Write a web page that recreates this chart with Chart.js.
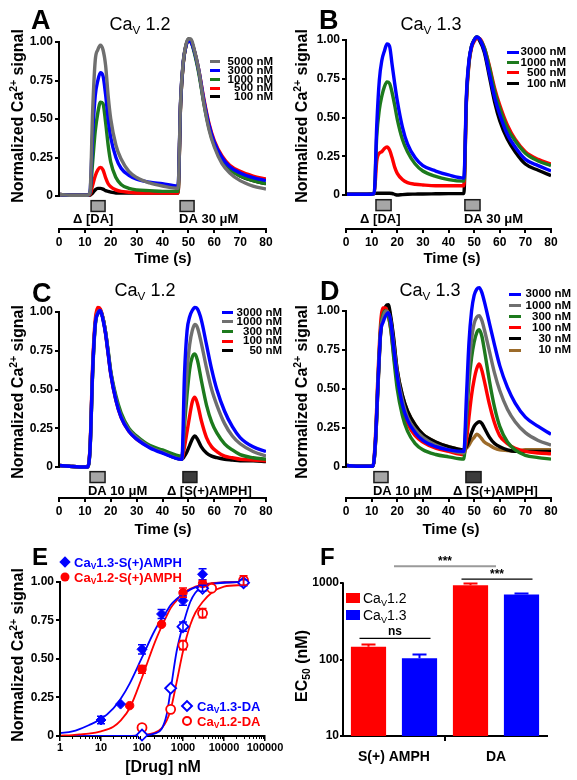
<!DOCTYPE html>
<html>
<head>
<meta charset="utf-8">
<script src="https://cdn.jsdelivr.net/npm/chart.js@4.4.0/dist/chart.umd.min.js"></script>
<style>
  body { margin: 0; background: #fff; font-family: "Liberation Sans", Arial, sans-serif; }
  #fig { position: relative; width: 577px; height: 780px; overflow: hidden; background: #fff; }
  canvas { position: absolute; }
  .lbl { position: absolute; white-space: nowrap; color: #000; line-height: 1; }
  .letter { font-weight: bold; font-size: 27px; }
  .letter.small { font-size: 24px; }
  .ttl { font-size: 18px; transform: translate(-50%, -50%); }
  .ytitle { font-weight: bold; font-size: 16px; transform: translate(-50%, -50%) rotate(-90deg); }
  .xtitle { font-weight: bold; font-size: 15px; transform: translate(-50%, -50%); }
  sub, sup { font-size: 65%; line-height: 0; }
  sub { vertical-align: -0.3em; }
  sup { vertical-align: 0.55em; }
  .leg { position: absolute; }
  .leg .row { display: flex; align-items: center; }
  .leg .sw { height: 3px; display: inline-block; flex: none; }
  .leg .tx { font: bold 11.5px "Liberation Sans", Arial, sans-serif; text-align: right; line-height: 1; white-space: nowrap; flex: none; }
  .mk { position: absolute; box-sizing: border-box; transform: translate(-50%, -50%); }
  .etx { position: absolute; font: bold 13px "Liberation Sans", Arial, sans-serif; transform: translateY(-50%); white-space: nowrap; line-height: 1; }
</style>
</head>
<body>
<div id="fig">
  <canvas id="cA" width="288" height="250" style="left:0;top:0"></canvas>
  <canvas id="cB" width="289" height="250" style="left:288px;top:0"></canvas>
  <canvas id="cC" width="288" height="255" style="left:0;top:265px"></canvas>
  <canvas id="cD" width="289" height="255" style="left:288px;top:265px"></canvas>
  <canvas id="cE" width="300" height="225" style="left:0;top:540px"></canvas>
  <canvas id="cF" width="289" height="240" style="left:288px;top:540px"></canvas>

  <div class="lbl letter" style="left:31px;top:7px">A</div>
  <div class="lbl letter" style="left:319px;top:7px">B</div>
  <div class="lbl letter" style="left:32px;top:280px">C</div>
  <div class="lbl letter" style="left:320px;top:278px">D</div>
  <div class="lbl letter small" style="left:32px;top:545px">E</div>
  <div class="lbl letter small" style="left:320px;top:545px">F</div>

  <div class="lbl ttl" style="left:140px;top:24px">Ca<sub>V</sub> 1.2</div>
  <div class="lbl ttl" style="left:431px;top:24px">Ca<sub>V</sub> 1.3</div>
  <div class="lbl ttl" style="left:145px;top:290px">Ca<sub>V</sub> 1.2</div>
  <div class="lbl ttl" style="left:430px;top:290px">Ca<sub>V</sub> 1.3</div>

  <div class="lbl ytitle" style="left:18px;top:116px">Normalized Ca<sup>2+</sup> signal</div>
  <div class="lbl ytitle" style="left:302px;top:116px">Normalized Ca<sup>2+</sup> signal</div>
  <div class="lbl ytitle" style="left:18px;top:392px">Normalized Ca<sup>2+</sup> signal</div>
  <div class="lbl ytitle" style="left:302px;top:392px">Normalized Ca<sup>2+</sup> signal</div>
  <div class="lbl ytitle" style="left:18px;top:655px">Normalized Ca<sup>2+</sup> signal</div>
  <div class="lbl ytitle" style="left:302px;top:666px">EC<sub>50</sub> (nM)</div>

  <div class="lbl xtitle" style="left:163px;top:257px">Time (s)</div>
  <div class="lbl xtitle" style="left:452px;top:257px">Time (s)</div>
  <div class="lbl xtitle" style="left:163px;top:528px">Time (s)</div>
  <div class="lbl xtitle" style="left:451px;top:528px">Time (s)</div>
  <div class="lbl xtitle" style="left:163px;top:767px;font-size:16px">[Drug] nM</div>

  <!-- E legend -->
  <div class="mk" style="left:65px;top:562px;width:8px;height:8px;background:#0000ff;transform:translate(-50%,-50%) rotate(45deg)"></div>
  <div class="etx" style="left:74px;top:562px;color:#0000ff">Ca<sub>V</sub>1.3-S(+)AMPH</div>
  <div class="mk" style="left:65px;top:577px;width:9px;height:9px;background:#ff0000;border-radius:50%"></div>
  <div class="etx" style="left:74px;top:577px;color:#ff0000">Ca<sub>V</sub>1.2-S(+)AMPH</div>
  <div class="mk" style="left:187px;top:706px;width:9px;height:9px;border:2px solid #0000ff;background:#fff;transform:translate(-50%,-50%) rotate(45deg)"></div>
  <div class="etx" style="left:197px;top:706px;color:#0000ff">Ca<sub>V</sub>1.3-DA</div>
  <div class="mk" style="left:187px;top:721px;width:10px;height:10px;border:2px solid #ff0000;background:#fff;border-radius:50%"></div>
  <div class="etx" style="left:197px;top:721px;color:#ff0000">Ca<sub>V</sub>1.2-DA</div>

  <!-- F legend -->
  <div style="position:absolute;left:346px;top:593px;width:14px;height:10px;background:#ff0000"></div>
  <div class="etx" style="left:363px;top:598px;font-weight:normal;font-size:14px">Ca<sub>V</sub>1.2</div>
  <div style="position:absolute;left:346px;top:610px;width:14px;height:10px;background:#0000ff"></div>
  <div class="etx" style="left:363px;top:615px;font-weight:normal;font-size:14px">Ca<sub>V</sub>1.3</div>
</div>

<script>
// ---- data ----
const timeAB = [0, 4, 8, 11, 12, 13, 14, 15, 16, 17, 18, 19, 20, 22, 24, 27, 30, 35, 40, 46,
                47, 48, 49, 50, 51, 52, 54, 56, 58, 60, 63, 66, 70, 75, 80];
const timeC = [0, 4, 8, 11, 12, 13, 14, 15, 16, 17, 18, 19, 20, 22, 24, 27, 30, 35, 40,
               47.5, 48.5, 49.5, 50.5, 51.5, 52.5, 53.5, 55, 57, 59, 61, 64, 67, 70, 75, 80];
const timeD = [0, 4, 8, 10.5, 11.5, 12.5, 13.5, 14.5, 15.5, 16.5, 17.5, 18.5, 20, 22, 24, 27, 30, 35, 40, 46,
               47, 48, 49, 50, 51, 52, 53, 54, 56, 58, 60, 63, 66, 70, 75, 80];

// A: CaV1.2, DA
const legA = ['5000 nM', '3000 nM', '1000 nM', '500 nM', '100 nM'];
const a5000 = [0.01,0.005,0.005,0.005,0.03,0.55,0.88,0.95,0.98,0.95,0.85,0.65,0.50,0.33,0.24,0.16,0.12,0.085,0.065,0.05,0.62,0.87,0.98,1.02,1.02,0.97,0.82,0.60,0.43,0.32,0.21,0.15,0.10,0.065,0.045];
const a3000 = [0.01,0.005,0.005,0.005,0.03,0.40,0.65,0.75,0.80,0.78,0.66,0.50,0.38,0.25,0.18,0.135,0.11,0.09,0.08,0.065,0.62,0.87,0.97,1.01,1.00,0.96,0.82,0.62,0.46,0.35,0.25,0.19,0.15,0.12,0.10];
const a1000 = [0.01,0.005,0.005,0.005,0.02,0.22,0.42,0.54,0.61,0.60,0.48,0.33,0.22,0.12,0.075,0.05,0.04,0.035,0.03,0.03,0.60,0.86,0.97,1.01,1.00,0.95,0.80,0.60,0.44,0.33,0.23,0.17,0.13,0.10,0.08];
const a500  = [0.01,0.005,0.005,0.005,0.01,0.07,0.13,0.17,0.185,0.17,0.12,0.08,0.06,0.04,0.03,0.025,0.02,0.02,0.02,0.02,0.60,0.86,0.97,1.01,1.00,0.96,0.82,0.63,0.47,0.36,0.26,0.20,0.16,0.13,0.11];
const a100  = [0.01,0.005,0.005,0.005,0.005,0.02,0.04,0.05,0.05,0.045,0.035,0.03,0.025,0.02,0.02,0.02,0.02,0.02,0.02,0.02,0.60,0.86,0.97,1.02,1.01,0.96,0.81,0.61,0.45,0.34,0.24,0.18,0.13,0.10,0.08];

// B: CaV1.3, DA
const legB = ['3000 nM', '1000 nM', '500 nM', '100 nM'];
const b3000 = [0.005,0.005,0.005,0.01,0.45,0.74,0.87,0.93,0.975,0.96,0.84,0.72,0.61,0.44,0.33,0.24,0.19,0.155,0.13,0.11,0.65,0.87,0.96,1.00,1.02,1.01,0.93,0.78,0.63,0.52,0.39,0.31,0.23,0.19,0.155];
const b1000 = [0.005,0.005,0.005,0.01,0.38,0.55,0.64,0.70,0.73,0.72,0.66,0.58,0.49,0.36,0.28,0.20,0.155,0.12,0.10,0.09,0.62,0.86,0.96,1.00,1.02,1.01,0.95,0.82,0.67,0.56,0.43,0.35,0.27,0.22,0.19];
const b500  = [0.005,0.005,0.005,0.01,0.22,0.27,0.28,0.30,0.31,0.29,0.24,0.18,0.14,0.10,0.08,0.07,0.065,0.06,0.06,0.06,0.60,0.85,0.95,0.99,1.01,1.01,0.95,0.83,0.69,0.58,0.45,0.36,0.28,0.23,0.20];
const b100  = [0.005,0.005,0.005,0.01,0.012,0.012,0.012,0.012,0.012,0.012,0.01,0.005,0.0,0.003,0.005,0.006,0.007,0.008,0.009,0.01,0.62,0.86,0.96,1.00,1.02,1.00,0.92,0.76,0.60,0.48,0.36,0.28,0.20,0.16,0.125];

// C: CaV1.2, S(+)AMPH
const legC = ['3000 nM', '1000 nM', '300 nM', '100 nM', '50 nM'];
const c3000 = [0.01,0.005,0,0,0.12,0.62,0.92,0.99,1.01,0.95,0.86,0.73,0.60,0.43,0.32,0.23,0.18,0.125,0.09,0.05,0.60,0.88,0.97,1.01,1.03,1.02,0.95,0.79,0.63,0.50,0.36,0.26,0.19,0.13,0.10];
const c1000 = [0.01,0.005,0,0,0.12,0.62,0.92,1.00,1.01,0.96,0.87,0.74,0.61,0.44,0.33,0.24,0.19,0.13,0.095,0.05,0.35,0.62,0.79,0.88,0.92,0.90,0.80,0.64,0.50,0.40,0.28,0.20,0.15,0.10,0.07];
const c300  = [0.01,0.005,0,0,0.11,0.60,0.91,0.99,1.00,0.96,0.87,0.75,0.62,0.46,0.35,0.25,0.20,0.14,0.11,0.07,0.27,0.47,0.63,0.71,0.73,0.69,0.56,0.40,0.29,0.22,0.15,0.11,0.08,0.06,0.05];
const c100  = [0.01,0.005,0,0,0.13,0.66,0.95,1.03,1.02,0.96,0.86,0.73,0.60,0.43,0.32,0.23,0.18,0.13,0.095,0.055,0.13,0.23,0.33,0.42,0.45,0.41,0.30,0.19,0.13,0.10,0.07,0.06,0.05,0.045,0.04];
const c50   = [0.01,0.005,0,0,0.12,0.62,0.92,1.00,1.01,0.96,0.87,0.74,0.61,0.44,0.33,0.24,0.19,0.13,0.095,0.05,0.07,0.10,0.14,0.18,0.20,0.18,0.13,0.09,0.07,0.06,0.05,0.045,0.04,0.04,0.035];

// D: CaV1.3, S(+)AMPH
const legD = ['3000 nM', '1000 nM', '300 nM', '100 nM', '30 nM', '10 nM'];
const d3000 = [0.01,0.005,0.005,0.005,0.17,0.55,0.86,0.93,0.97,0.99,0.93,0.78,0.58,0.40,0.30,0.22,0.17,0.13,0.11,0.10,0.45,0.80,1.00,1.10,1.14,1.15,1.12,1.06,0.92,0.78,0.65,0.51,0.41,0.32,0.26,0.21];
const d1000 = [0.01,0.005,0.005,0.005,0.16,0.55,0.87,0.96,1.00,0.99,0.93,0.80,0.60,0.43,0.32,0.24,0.19,0.14,0.11,0.09,0.35,0.65,0.82,0.92,0.96,0.97,0.94,0.88,0.74,0.60,0.49,0.37,0.29,0.22,0.17,0.14];
const d300  = [0.01,0.005,0.005,0.005,0.17,0.56,0.88,0.98,1.00,0.97,0.88,0.72,0.50,0.33,0.23,0.15,0.11,0.08,0.065,0.05,0.30,0.55,0.70,0.80,0.86,0.88,0.84,0.75,0.55,0.38,0.26,0.16,0.11,0.075,0.06,0.05];
const d100  = [0.01,0.005,0.005,0.005,0.20,0.60,0.92,1.02,1.02,0.97,0.88,0.74,0.55,0.38,0.28,0.20,0.16,0.12,0.10,0.08,0.17,0.32,0.46,0.56,0.63,0.66,0.62,0.55,0.40,0.28,0.20,0.15,0.12,0.10,0.09,0.085];
const d30   = [0.01,0.005,0.005,0.005,0.15,0.52,0.86,0.98,1.03,1.04,0.96,0.84,0.62,0.46,0.36,0.27,0.21,0.16,0.13,0.11,0.13,0.17,0.22,0.26,0.28,0.29,0.28,0.25,0.19,0.15,0.13,0.11,0.10,0.10,0.10,0.10];
const d10   = [0.01,0.005,0.005,0.005,0.15,0.52,0.85,0.97,1.01,1.02,0.95,0.83,0.62,0.46,0.36,0.27,0.21,0.16,0.13,0.11,0.12,0.14,0.17,0.19,0.21,0.20,0.18,0.16,0.14,0.12,0.11,0.105,0.10,0.11,0.11,0.11];

// drug application markers (times in s)
const stimA = [{ from: 12.4, to: 17.8, label: 'Δ [DA]', labelAt: 5.4 },
               { from: 46.8, to: 52.2, label: 'DA 30 μM', labelAt: 46.4 }];
const stimB = [{ from: 11.7, to: 17.6, label: 'Δ [DA]', labelAt: 5.5 },
               { from: 46.4, to: 52.3, label: 'DA 30 μM', labelAt: 46.0 }];
const stimC = [{ from: 12.0, to: 17.8, label: 'DA 10 μM', labelAt: 11.2 },
               { from: 47.9, to: 53.3, label: 'Δ [S(+)AMPH]', labelAt: 41.7, dark: true }];
const stimD = [{ from: 10.9, to: 16.4, label: 'DA 10 μM', labelAt: 10.5 },
               { from: 46.8, to: 52.7, label: 'Δ [S(+)AMPH]', labelAt: 41.8, dark: true }];

const signalTicks = [0, 0.25, 0.5, 0.75, 1];
const signalTickText = ['0', '0.25', '0.50', '0.75', '1.00'];

// E: dose-response
const amphX13 = [10, 30, 100, 300, 1000, 3000];
const amphY13 = [0.104, 0.207, 0.563, 0.792, 0.879, 1.05];
const amphErr13 = [0.025, 0, 0.03, 0.03, 0.03, 0.035];
const amphX12 = [50, 100, 300, 1000, 3000];
const amphY12 = [0.197, 0.433, 0.725, 0.93, 0.99];
const amphErr12 = [0, 0.025, 0, 0.03, 0.02];
const daX13 = [100, 500, 1000, 3000, 30000];
const daY13 = [0.006, 0.31, 0.71, 0.959, 0.995];
const daErr13 = [0, 0, 0.03, 0.02, 0.02];
const daX12 = [100, 500, 1000, 3000, 5000, 30000];
const daY12 = [0.054, 0.173, 0.59, 0.797, 0.959, 1.01];
const daErr12 = [0, 0, 0.03, 0.03, 0, 0.03];

const curveX = [1, 2, 3, 5, 10, 20, 30, 50, 100, 200, 300, 400, 500, 700, 1000, 1500, 2000, 3000, 5000, 10000, 30000];
const fit13Amph = [0.018,0.03,0.045,0.07,0.11,0.18,0.24,0.34,0.51,0.68,0.76,0.81,0.85,0.89,0.92,0.95,0.965,0.978,0.988,0.995,1.0];
const fit12Amph = [0.003,0.006,0.01,0.015,0.03,0.06,0.10,0.18,0.38,0.60,0.71,0.78,0.83,0.88,0.93,0.955,0.97,0.983,0.992,0.997,1.0];
const fit13Da   = [0,0,0,0,0,0,0,0.001,0.004,0.015,0.045,0.14,0.30,0.55,0.72,0.87,0.93,0.97,0.99,0.998,1.0];
const fit12Da   = [0,0,0,0,0,0,0,0.001,0.006,0.02,0.05,0.10,0.17,0.35,0.55,0.72,0.80,0.87,0.93,0.97,0.98];
const drugTicks = [1, 10, 100, 1000, 10000, 100000];
const drugTickText = ['1', '10', '100', '1000', '10000', '100000'];

// F: EC50 bars
const fCats = ['S(+) AMPH', 'DA'];
const ec50Cav12 = [147, 942];
const ec50Cav12Err = [158, 990];
const ec50Cav13 = [104, 711];
const ec50Cav13Err = [117, 733];
const ec50Ticks = [10, 100, 1000];
const sigF = [{ cat: 0, level: 189, text: 'ns' },
              { cat: 1, level: 1130, text: '***' },
              { from: 0, to: 1, level: 1670, text: '***', gray: true }];

// ---- styling ----
const FONT = '"Liberation Sans", Arial, sans-serif';
const GRAY = '#6f6f6f', BLUE = '#0000ff', GREEN = '#1d7a1d', RED = '#ff0000', BLACK = '#000000', BROWN = '#9c6b2a';
Chart.defaults.font.family = FONT;
Chart.defaults.color = '#000';

// y axis line only over part of the range (0..1 or 10..1000)
const axisLine = {
  id: 'axisLine',
  afterDraw(chart, args, opts) {
    if (opts.to === undefined) return;
    const { ctx, chartArea } = chart;
    const y = chart.scales.y;
    ctx.save();
    ctx.strokeStyle = '#000';
    ctx.lineWidth = 2;
    ctx.beginPath();
    ctx.moveTo(chartArea.left, y.getPixelForValue(opts.from) + 1);
    ctx.lineTo(chartArea.left, y.getPixelForValue(opts.to) - 1);
    ctx.stroke();
    ctx.restore();
  }
};

// grey / dark boxes marking drug application
const stim = {
  id: 'stim',
  afterDatasetsDraw(chart, args, opts) {
    if (!opts.items) return;
    const { ctx } = chart;
    const x = chart.scales.x, y = chart.scales.y;
    ctx.save();
    opts.items.forEach(it => {
      const x0 = x.getPixelForValue(it.from), x1 = x.getPixelForValue(it.to);
      const y0 = y.getPixelForValue(-0.03), y1 = y.getPixelForValue(-0.10);
      ctx.fillStyle = it.dark ? '#3c3c3c' : '#a6a6a6';
      ctx.fillRect(x0, y0, x1 - x0, y1 - y0);
      ctx.strokeStyle = '#1a1a1a';
      ctx.lineWidth = 1.5;
      ctx.strokeRect(x0, y0, x1 - x0, y1 - y0);
      ctx.fillStyle = '#000';
      ctx.font = 'bold 13px ' + FONT;
      ctx.textAlign = 'left';
      ctx.textBaseline = 'middle';
      ctx.fillText(it.label, x.getPixelForValue(it.labelAt), y.getPixelForValue(-0.155));
    });
    ctx.restore();
  }
};

// error bars: symmetric for scatter points, upper only for bars
const errorBars = {
  id: 'errorBars',
  afterDatasetsDraw(chart) {
    const { ctx } = chart;
    chart.data.datasets.forEach((ds, di) => {
      if (!ds.errs && !ds.errTop) return;
      const meta = chart.getDatasetMeta(di);
      const y = chart.scales[meta.yAxisID];
      ctx.save();
      ctx.strokeStyle = ds.borderColor;
      meta.data.forEach((el, i) => {
        let top, bot, cap;
        if (ds.errTop) {
          top = y.getPixelForValue(ds.errTop[i]);
          bot = el.y;
          cap = 7;
          ctx.lineWidth = 2;
        } else {
          const e = ds.errs[i];
          if (!e) return;
          top = y.getPixelForValue(ds.data[i].y + e);
          bot = y.getPixelForValue(ds.data[i].y - e);
          cap = 4;
          ctx.lineWidth = 1.5;
        }
        ctx.beginPath();
        ctx.moveTo(el.x, top); ctx.lineTo(el.x, bot);
        ctx.moveTo(el.x - cap, top); ctx.lineTo(el.x + cap, top);
        if (!ds.errTop) { ctx.moveTo(el.x - cap, bot); ctx.lineTo(el.x + cap, bot); }
        ctx.stroke();
      });
      ctx.restore();
    });
  }
};

// minor ticks and decade labels on the log dose axis
const logAxis = {
  id: 'logAxis',
  afterDraw(chart, args, opts) {
    if (!opts.minor) return;
    const { ctx, chartArea } = chart;
    const x = chart.scales.x;
    ctx.save();
    ctx.strokeStyle = '#000';
    ctx.lineWidth = 1;
    ctx.beginPath();
    opts.minor.forEach(v => {
      const px = Math.round(x.getPixelForValue(v)) + 0.5;
      ctx.moveTo(px, chartArea.bottom);
      ctx.lineTo(px, chartArea.bottom + 3);
    });
    ctx.stroke();
    ctx.fillStyle = '#000';
    ctx.font = 'bold 11px ' + FONT;
    ctx.textAlign = 'center';
    ctx.textBaseline = 'middle';
    opts.major.forEach((v, i) => {
      ctx.fillText(opts.text[i], x.getPixelForValue(v), chartArea.bottom + 12);
    });
    ctx.restore();
  }
};

// significance brackets in F
const sig = {
  id: 'sig',
  afterDatasetsDraw(chart, args, opts) {
    if (!opts.items) return;
    const { ctx } = chart;
    const x = chart.scales.x, y = chart.scales.y;
    ctx.save();
    opts.items.forEach(it => {
      let x0, x1;
      if (it.cat !== undefined) {
        x0 = chart.getDatasetMeta(0).data[it.cat].x - 9;
        x1 = chart.getDatasetMeta(1).data[it.cat].x + 11;
      } else {
        x0 = x.getPixelForValue(it.from);
        x1 = x.getPixelForValue(it.to);
      }
      const ly = y.getPixelForValue(it.level);
      ctx.strokeStyle = it.gray ? '#9a9a9a' : '#000';
      ctx.lineWidth = it.gray ? 2 : 1.2;
      ctx.beginPath();
      ctx.moveTo(x0, ly); ctx.lineTo(x1, ly);
      ctx.stroke();
      ctx.fillStyle = '#000';
      ctx.font = 'bold 12px ' + FONT;
      ctx.textAlign = 'center';
      ctx.textBaseline = 'alphabetic';
      ctx.fillText(it.text, (x0 + x1) / 2, it.text === 'ns' ? ly - 3 : ly - 1);
    });
    ctx.restore();
  }
};

Chart.register(axisLine, stim, errorBars, logAxis, sig);

const tickFont = { family: FONT, size: 12, weight: 'bold' };
const axisGrid = { drawOnChartArea: false, tickLength: 4, color: '#000', lineWidth: 2 };

function timeChart(id, times, series, cfg) {
  return new Chart(document.getElementById(id), {
    type: 'line',
    data: {
      datasets: series.map(s => ({
        label: s.label,
        data: times.map((t, i) => ({ x: t, y: s.values[i] })),
        borderColor: s.color,
        backgroundColor: s.color,
        borderWidth: 3.4,
        pointRadius: 0,
        cubicInterpolationMode: 'monotone'
      }))
    },
    options: {
      responsive: false,
      animation: false,
      layout: { padding: { top: cfg.padTop, right: cfg.padRight, left: 0, bottom: 0 } },
      plugins: {
        legend: { display: false },
        tooltip: { enabled: false },
        axisLine: { from: 0, to: 1 },
        stim: { items: cfg.stims }
      },
      scales: {
        x: {
          type: 'linear', min: 0, max: 80,
          afterFit: s => { s.height = cfg.xH; },
          ticks: { stepSize: 10, font: tickFont, color: '#000', padding: 2, maxRotation: 0 },
          grid: axisGrid,
          border: { display: true, color: '#000', width: 2 }
        },
        y: {
          min: cfg.yMin, max: cfg.yMax,
          afterFit: s => { s.width = cfg.yW; },
          afterBuildTicks: s => { s.ticks = signalTicks.map(v => ({ value: v })); },
          ticks: { callback: (v, i) => signalTickText[i], font: tickFont, color: '#000', padding: 2 },
          grid: axisGrid,
          border: { display: false }
        }
      }
    }
  });
}

timeChart('cA', timeAB, [
  { label: legA[0], values: a5000, color: GRAY },
  { label: legA[1], values: a3000, color: BLUE },
  { label: legA[2], values: a1000, color: GREEN },
  { label: legA[3], values: a500, color: RED },
  { label: legA[4], values: a100, color: BLACK }
], { padTop: 34, padRight: 22, xH: 21, yW: 59, yMin: -0.214, yMax: 1.052, stims: stimA });

timeChart('cB', timeAB, [
  { label: legB[0], values: b3000, color: BLUE },
  { label: legB[1], values: b1000, color: GREEN },
  { label: legB[2], values: b500, color: RED },
  { label: legB[3], values: b100, color: BLACK }
], { padTop: 34, padRight: 26, xH: 21, yW: 58, yMin: -0.219, yMax: 1.039, stims: stimB });

timeChart('cC', timeC, [
  { label: legC[0], values: c3000, color: BLUE },
  { label: legC[1], values: c1000, color: GRAY },
  { label: legC[2], values: c300, color: GREEN },
  { label: legC[3], values: c100, color: RED },
  { label: legC[4], values: c50, color: BLACK }
], { padTop: 37, padRight: 22, xH: 22, yW: 59, yMin: -0.2, yMax: 1.065, stims: stimC });

timeChart('cD', timeD, [
  { label: legD[0], values: d3000, color: BLUE },
  { label: legD[1], values: d1000, color: GRAY },
  { label: legD[2], values: d300, color: GREEN },
  { label: legD[3], values: d100, color: RED },
  { label: legD[4], values: d30, color: BLACK },
  { label: legD[5], values: d10, color: BROWN }
], { padTop: 20, padRight: 26, xH: 22, yW: 58, yMin: -0.199, yMax: 1.167, stims: stimD });

// legends for A-D
const fig = document.getElementById('fig');
function addLegend(left, top, rowH, swW, textW, labels, colors) {
  const box = document.createElement('div');
  box.className = 'leg';
  box.style.left = left + 'px';
  box.style.top = top + 'px';
  labels.forEach((lab, i) => {
    const row = document.createElement('div');
    row.className = 'row';
    row.style.height = rowH + 'px';
    row.innerHTML = '<span class="sw" style="width:' + swW + 'px;background:' + colors[i] + '"></span>' +
                    '<span class="tx" style="width:' + textW + 'px">' + lab + '</span>';
    box.appendChild(row);
  });
  fig.appendChild(box);
}
addLegend(210, 57.6, 8.7, 10, 53, legA, [GRAY, BLUE, GREEN, RED, BLACK]);
addLegend(507, 47, 10.4, 12, 47, legB, [BLUE, GREEN, RED, BLACK]);
addLegend(222, 307.5, 9.6, 11, 49, legC, [BLUE, GRAY, GREEN, RED, BLACK]);
addLegend(509, 288.5, 11.2, 12, 50, legD, [BLUE, GRAY, GREEN, RED, BLACK, BROWN]);

// E
const pts = (xs, ys) => xs.map((x, i) => ({ x: x, y: ys[i] }));
const drugMinor = [];
for (let d = 1; d < 100000; d *= 10) for (let k = 2; k <= 9; k++) drugMinor.push(k * d);

new Chart(document.getElementById('cE'), {
  type: 'scatter',
  data: {
    datasets: [
      { data: pts(amphX13, amphY13), errs: amphErr13, pointStyle: 'rectRot', pointRadius: 5,
        backgroundColor: BLUE, borderColor: BLUE, clip: false },
      { data: pts(amphX12, amphY12), errs: amphErr12, pointStyle: 'circle', pointRadius: 4.2,
        backgroundColor: RED, borderColor: RED, clip: false },
      { data: pts(daX13, daY13), errs: daErr13, pointStyle: 'rectRot', pointRadius: 5.5, borderWidth: 1.8,
        backgroundColor: '#fff', borderColor: BLUE, clip: false },
      { data: pts(daX12, daY12), errs: daErr12, pointStyle: 'circle', pointRadius: 4.5, borderWidth: 1.8,
        backgroundColor: '#fff', borderColor: RED, clip: false },
      { data: pts(curveX, fit13Amph), showLine: true, pointRadius: 0, borderColor: BLUE, borderWidth: 1.8,
        cubicInterpolationMode: 'monotone' },
      { data: pts(curveX, fit12Amph), showLine: true, pointRadius: 0, borderColor: RED, borderWidth: 1.8,
        cubicInterpolationMode: 'monotone' },
      { data: pts(curveX, fit13Da), showLine: true, pointRadius: 0, borderColor: BLUE, borderWidth: 1.8,
        cubicInterpolationMode: 'monotone' },
      { data: pts(curveX, fit12Da), showLine: true, pointRadius: 0, borderColor: RED, borderWidth: 1.8,
        cubicInterpolationMode: 'monotone' }
    ]
  },
  options: {
    responsive: false,
    animation: false,
    layout: { padding: { top: 15, right: 35, left: 0, bottom: 0 } },
    plugins: {
      legend: { display: false },
      tooltip: { enabled: false },
      axisLine: { from: 0, to: 1 },
      logAxis: { minor: drugMinor, major: drugTicks, text: drugTickText }
    },
    scales: {
      x: {
        type: 'logarithmic', min: 1, max: 100000,
        afterFit: s => { s.height = 29; },
        afterBuildTicks: s => { s.ticks = drugTicks.map(v => ({ value: v })); },
        ticks: { display: false },
        grid: { drawOnChartArea: false, drawTicks: true, tickLength: 5, color: '#000', lineWidth: 1.5 },
        border: { display: true, color: '#000', width: 2 }
      },
      y: {
        min: 0, max: 1.175,
        afterFit: s => { s.width = 60; },
        afterBuildTicks: s => { s.ticks = signalTicks.map(v => ({ value: v })); },
        ticks: { callback: (v, i) => signalTickText[i], font: tickFont, color: '#000', padding: 2 },
        grid: axisGrid,
        border: { display: false }
      }
    }
  }
});

// F
new Chart(document.getElementById('cF'), {
  type: 'bar',
  data: {
    labels: fCats,
    datasets: [
      { label: 'CaV1.2', data: ec50Cav12, errTop: ec50Cav12Err, backgroundColor: RED, borderColor: RED },
      { label: 'CaV1.3', data: ec50Cav13, errTop: ec50Cav13Err, backgroundColor: BLUE, borderColor: BLUE }
    ]
  },
  options: {
    responsive: false,
    animation: false,
    datasets: { bar: { barPercentage: 0.69, categoryPercentage: 1 } },
    layout: { padding: { top: 8, right: 30, left: 0, bottom: 0 } },
    plugins: {
      legend: { display: false },
      tooltip: { enabled: false },
      axisLine: { from: 10, to: 1000 },
      sig: { items: sigF }
    },
    scales: {
      x: {
        afterFit: s => { s.height = 44; },
        ticks: { font: { family: FONT, size: 14, weight: 'bold' }, color: '#000', padding: 8 },
        grid: { drawOnChartArea: false, tickLength: 5, lineWidth: 2,
                color: c => c.index === 1 ? '#000' : 'rgba(0,0,0,0)' },
        border: { display: true, color: '#000', width: 2 }
      },
      y: {
        type: 'logarithmic', min: 10, max: 2870,
        afterFit: s => { s.width = 55; },
        afterBuildTicks: s => { s.ticks = ec50Ticks.map(v => ({ value: v })); },
        ticks: { callback: v => String(v), font: tickFont, color: '#000', padding: 1 },
        grid: { drawOnChartArea: false, tickLength: 3, color: '#000', lineWidth: 2 },
        border: { display: false }
      }
    }
  }
});
</script>
</body>
</html>
